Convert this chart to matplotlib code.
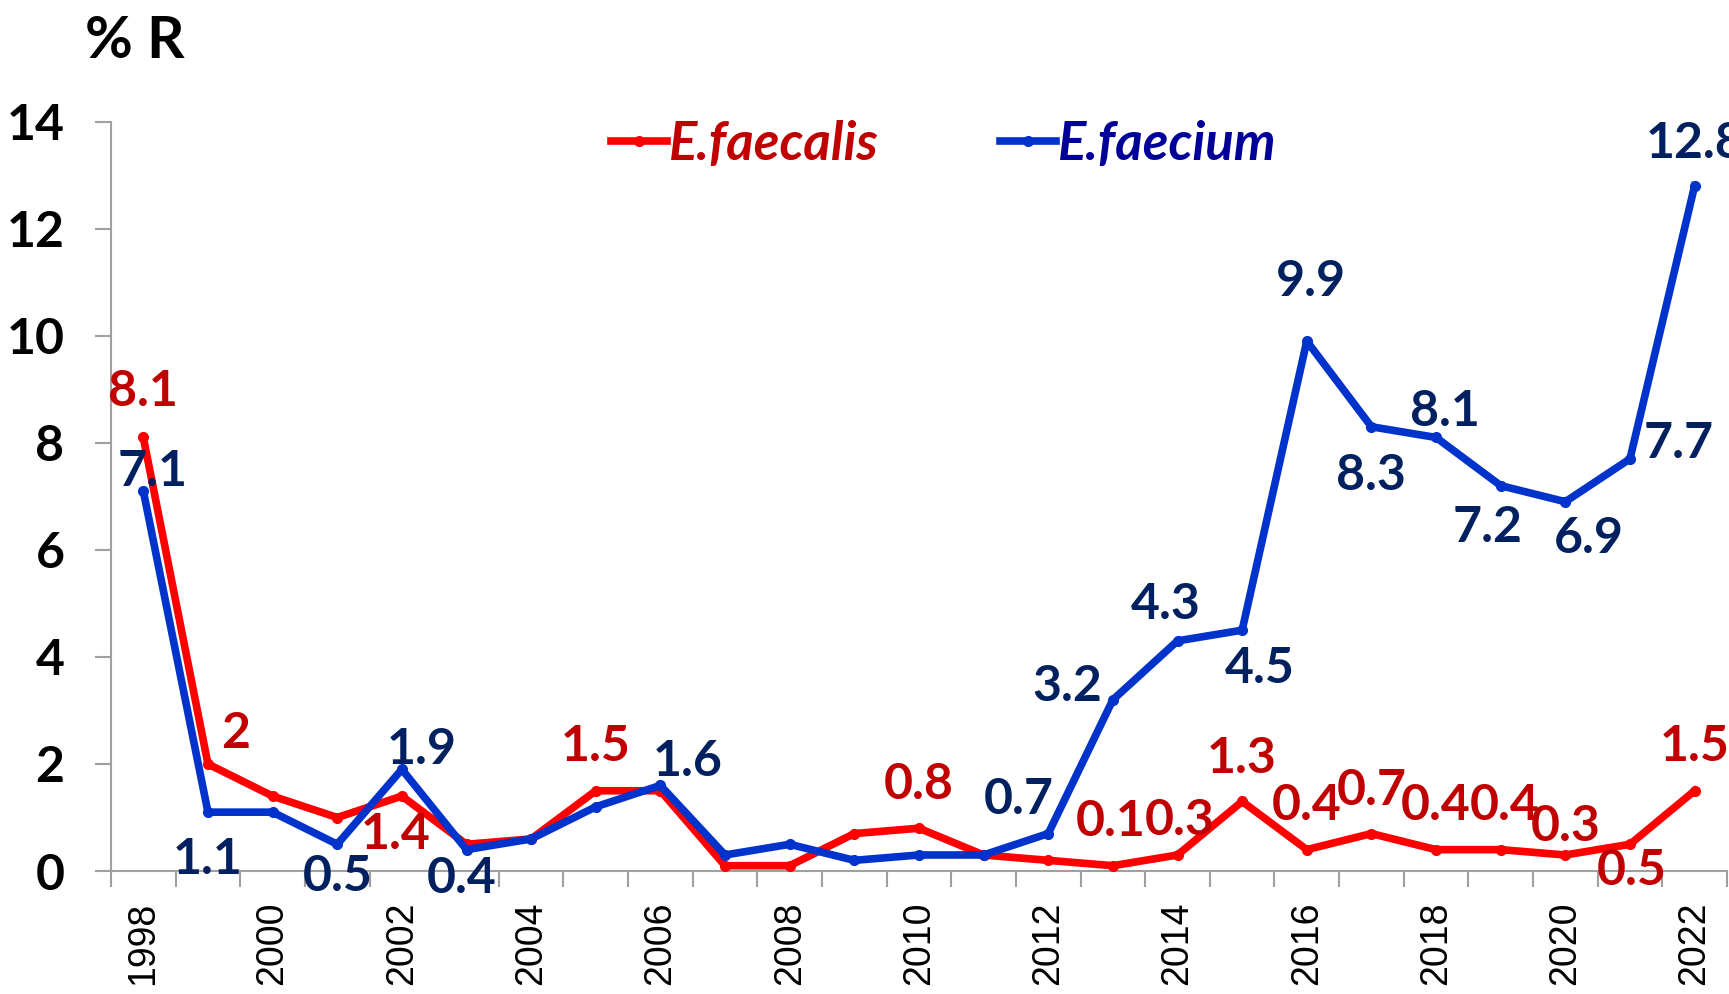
import numpy as np
import matplotlib.pyplot as plt
from matplotlib.lines import Line2D

years = list(range(1998, 2023))
faecalis = [8.1, 2.0, 1.4, 1.0, 1.4, 0.5, 0.6, 1.5, 1.5, 0.1, 0.1, 0.7, 0.8,
            0.3, 0.2, 0.1, 0.3, 1.3, 0.4, 0.7, 0.4, 0.4, 0.3, 0.5, 1.5]
faecium = [7.1, 1.1, 1.1, 0.5, 1.9, 0.4, 0.6, 1.2, 1.6, 0.3, 0.5, 0.2, 0.3,
           0.3, 0.7, 3.2, 4.3, 4.5, 9.9, 8.3, 8.1, 7.2, 6.9, 7.7, 12.8]

# which points carry a value label
faecalis_labelled = [1998, 1999, 2002, 2005, 2010, 2013, 2014, 2015, 2016,
                     2017, 2018, 2019, 2020, 2021, 2022]
faecium_labelled = [1998, 1999, 2001, 2002, 2003, 2006, 2012, 2013, 2014,
                    2015, 2016, 2017, 2018, 2019, 2020, 2021, 2022]

# label offsets from the point (px on screen, y down)
red_off = {1998: (0, -42), 1999: (25, -28), 2002: (-6, 35), 2005: (0, -40),
           2010: (0, -40), 2013: (-2, -40), 2014: (2, -31), 2015: (0, -39),
           2016: (0, -40), 2017: (0, -39), 2018: (0, -40), 2019: (4, -40),
           2020: (0, -26), 2021: (2, 24), 2022: (0, -40)}
blue_off = {1998: (8, -18), 1999: (0, 43), 2001: (0, 29), 2002: (18, -18),
            2003: (-4, 26), 2006: (25, -22), 2012: (-27, -31), 2013: (-41, -12),
            2014: (-11, -33), 2015: (16, 35), 2016: (4, -54), 2017: (0, 44),
            2018: (8, -24), 2019: (-12, 38), 2020: (21, 33), 2021: (44, -14),
            2022: (0, -38)}

FONT = ['Lato', 'DejaVu Sans']
RED = '#FF0000'
BLUE = '#0033CC'
RED_TXT = '#C00000'
BLUE_TXT = '#002060'
GRAY = '#A0A0A0'

fig = plt.figure(figsize=(17.29, 9.94), dpi=100)
ax = fig.add_axes([0.0642, 0.1237, 0.9346, 0.7539])

x = np.arange(len(years))
ax.plot(x, faecalis, color=RED, lw=5.5, marker='o', ms=7, zorder=3)
ax.plot(x, faecium, color=BLUE, lw=5.5, marker='o', ms=7, zorder=4)

k = 1.1027 * 0.72
for yr in faecalis_labelled:
    i = years.index(yr)
    dx, dy = red_off[yr]
    v = faecalis[i]
    ax.annotate(f'{v:g}', (i, v), xytext=(dx * k, -dy * k), textcoords='offset points',
                ha='center', va='center', color=RED_TXT, fontsize=36,
                fontweight='bold', family=FONT, zorder=5, annotation_clip=False)
for yr in faecium_labelled:
    i = years.index(yr)
    dx, dy = blue_off[yr]
    v = faecium[i]
    ax.annotate(f'{v:g}', (i, v), xytext=(dx * k, -dy * k), textcoords='offset points',
                ha='center', va='center', color=BLUE_TXT, fontsize=36,
                fontweight='bold', family=FONT, zorder=5, annotation_clip=False)

ax.set_xlim(-0.5, len(years) - 0.5)
ax.set_ylim(0, 14)
ax.set_yticks(np.arange(0, 15, 2))
ax.set_yticklabels([str(t) for t in range(0, 15, 2)], fontsize=36,
                   fontweight='bold', family=FONT)
ax.set_xticks(x[::2])
ax.set_xticklabels([str(y) for y in years[::2]], rotation=90, fontsize=27,
                   family=['Liberation Sans', 'DejaVu Sans'])
ax.set_xticks(np.arange(-0.5, len(years)), minor=True)
ax.tick_params(axis='x', which='major', length=0, pad=22)
ax.tick_params(axis='x', which='minor', length=11.5, width=1.5, color=GRAY)
ax.tick_params(axis='y', length=11.5, width=1.5, color=GRAY, pad=22)

for s in ['top', 'right']:
    ax.spines[s].set_visible(False)
for s in ['left', 'bottom']:
    ax.spines[s].set_color(GRAY)
    ax.spines[s].set_linewidth(1.5)

handles = [Line2D([], [], color=RED, lw=5.5, marker='o', ms=7),
           Line2D([], [], color=BLUE, lw=5.5, marker='o', ms=7)]
leg = fig.legend(handles, ['E.faecalis', 'E.faecium'], loc='center',
                 bbox_to_anchor=(0.546, 0.855), ncol=2, frameon=False,
                 handlelength=1.05, handletextpad=0.05, columnspacing=2.3,
                 prop={'family': FONT, 'size': 38, 'weight': 'bold', 'style': 'italic'})
for t, c in zip(leg.get_texts(), [RED_TXT, '#000099']):
    t.set_color(c)

fig.text(0.049, 0.9416, '% R', fontsize=42, fontweight='bold', family=FONT,
         va='baseline', ha='left')

fig.savefig('out.png', dpi=100)
